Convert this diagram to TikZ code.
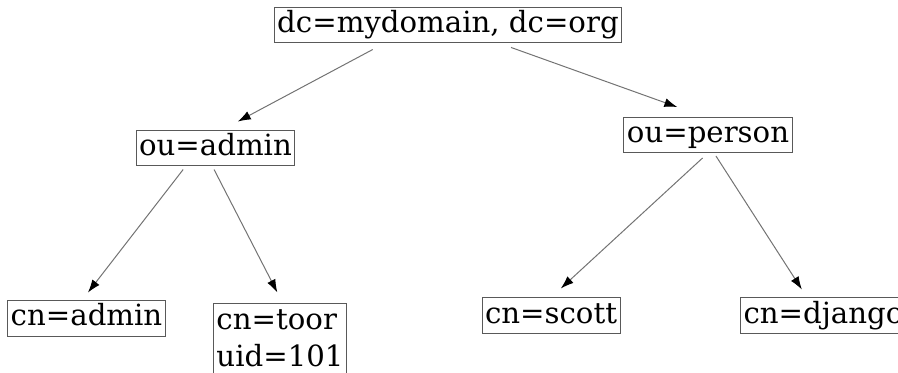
\documentclass[tikz,border=0pt]{standalone}
\usepackage{fontspec}
\setmainfont{DejaVu Serif}
\usetikzlibrary{arrows.meta,positioning}

\tikzset{
	base/.style={draw=black!65, line width=0.5pt, inner xsep=1.5pt, inner ysep=1.5pt,
		font=\fontsize{14.6}{18.5}\selectfont},
	entry/.style={base, text height=11pt, text depth=3.5pt},
	twoline/.style={base, align=left, inner ysep=3pt},
	link/.style={draw=black!55, line width=0.5pt, -{Latex[length=6.5pt,width=4.5pt,color=black]}}
}

\begin{document}
\begin{tikzpicture}[x=0.5pt,y=-0.5pt]
	\useasboundingbox (0,0) rectangle (898,373);
	
	% Root of the tree
	\node[entry] (root) at (448,25.5) {dc=mydomain, dc=org};
	
	% Organisational units
	\node[entry] (ouadmin) at (215.5,148.5) {ou=admin};
	\node[entry] (ouperson) at (708,135) {ou=person};
	
	% Common names
	\node[entry] (cnadmin) at (86.5,318.5) {cn=admin};
	\node[twoline,anchor=north] (cntoor) at (280,303.5) {cn=toor\\uid=101};
	\node[entry] (cnscott) at (551,315.5) {cn=scott};
	\node[entry,anchor=west] (cndjango) at (740,315.5) {cn=django};
	
	% Links
	\draw[link,shorten <=6.4pt,shorten >=9.5pt] ([xshift=-32pt]root.south) -- ([xshift=2.75pt]ouadmin.north);
	\draw[link,shorten <=5.85pt,shorten >=14.7pt] ([xshift=26pt]root.south) -- ([xshift=-1.5pt]ouperson.north);
	\draw[link,shorten <=1.9pt,shorten >=5pt] ([xshift=-15pt]ouadmin.south) -- ([xshift=-2.35pt]cnadmin.north);
	\draw[link,shorten <=1.7pt,shorten >=6.2pt] ([xshift=-1.5pt]ouadmin.south) -- ([xshift=1.5pt]cntoor.north);
	\draw[link,shorten <=3.7pt,shorten >=6.65pt] (ouperson.south) -- (cnscott.north);
	\draw[link,shorten <=1.8pt,shorten >=4.75pt] ([xshift=3pt]ouperson.south) -- ([xshift=33.5pt]cndjango.north west);
	
\end{tikzpicture}
\end{document}
